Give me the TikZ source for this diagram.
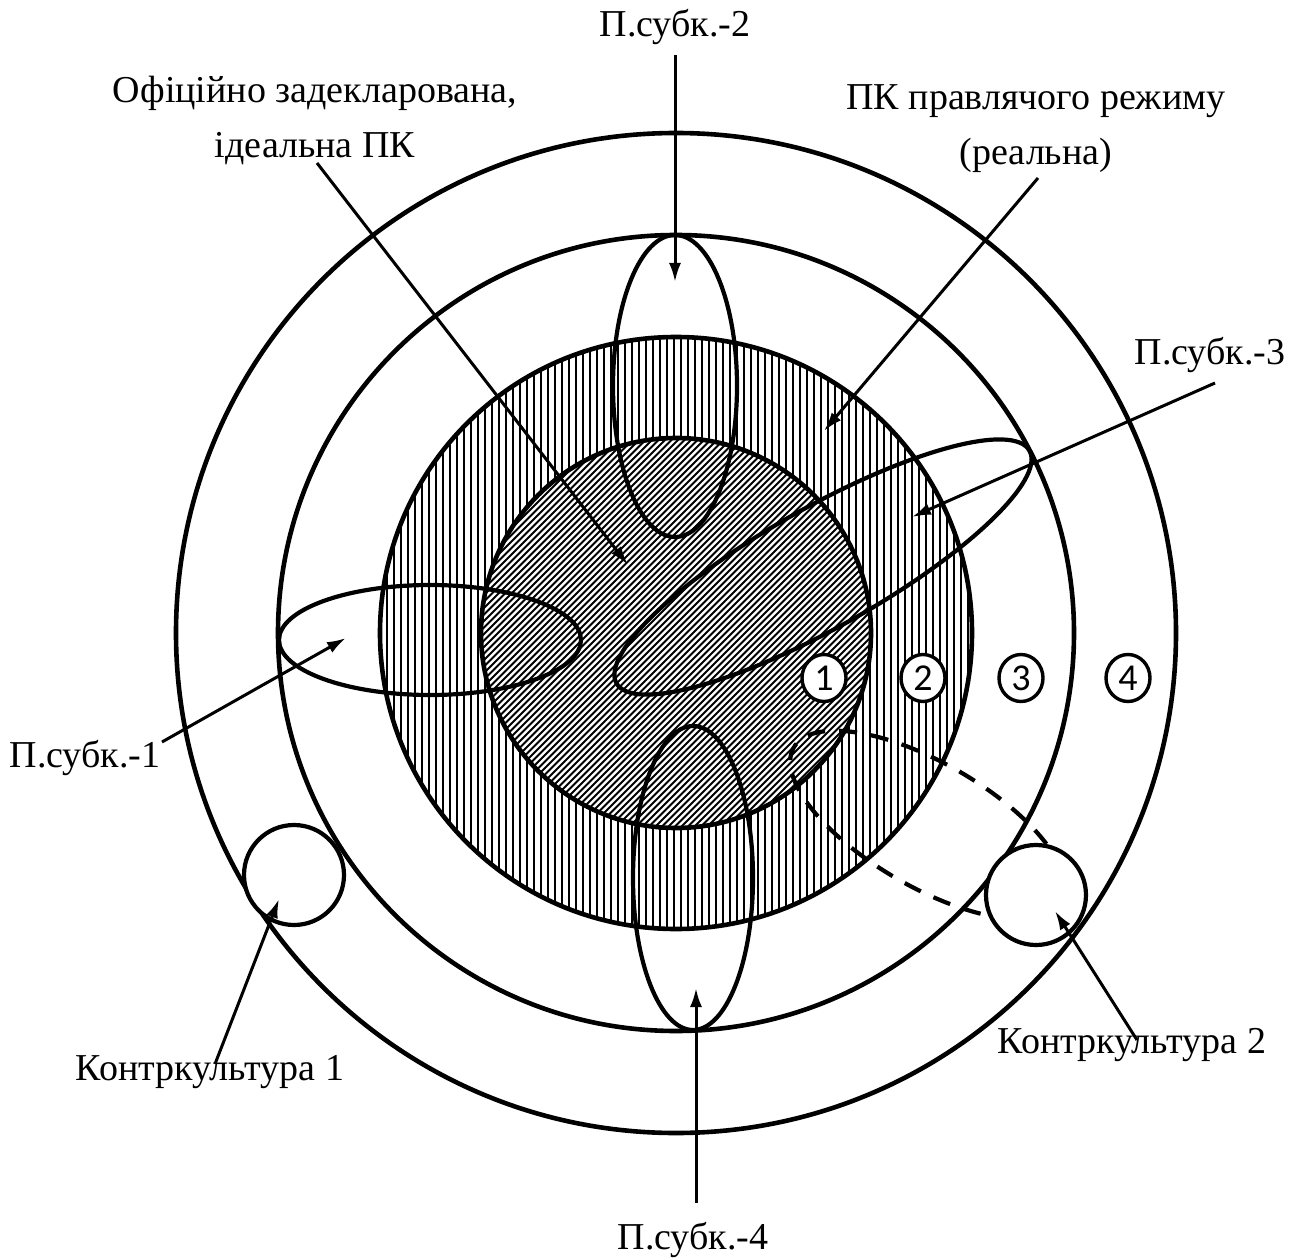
\documentclass[tikz,border=0pt]{standalone}
\usepackage{fontspec}
\setmainfont{Liberation Serif}
\newfontfamily\numfont{Carlito}
\usetikzlibrary{arrows.meta,shapes.geometric,positioning,calc}
\tikzset{ % Standard ring, hatch and arrow styles
    ring/.style={draw, line width=4.6pt},
    subc/.style={draw, line width=4.2pt},
    hatchv/.style={line width=1.5pt},
    hatchd/.style={line width=2pt},
    line/.style={draw, line width=3pt, -{Latex[length=19pt,width=12pt]}},
    lbl/.style={inner sep=0pt, align=center, font=\fontsize{38}{55}\selectfont},
    num/.style={draw, ellipse, line width=3.4pt, fill=white, minimum width=44pt, minimum height=47pt, inner sep=0pt, font=\numfont\fontsize{38}{38}\selectfont},
    cult/.style={draw, circle, line width=4.2pt, fill=white, minimum size=100pt, inner sep=0pt}
}
\begin{document}
\begin{tikzpicture}[x=1pt, y=-1pt]
	\useasboundingbox (0,0) rectangle (1302,1260);
	\coordinate (c) at (676,633);
	%Hatched zones
	\fill[white] (c) circle (296);
	\begin{scope}
		\clip (c) circle (296);
		\foreach \x in {380,387,...,975} \draw[hatchv] (\x,330) -- (\x,935);
	\end{scope}
	\fill[white] (c) circle (195);
	\begin{scope}
		\clip (c) circle (195);
		\foreach \x in {80,86.5,...,880} \draw[hatchd] (\x,830) -- (\x+400,430);
	\end{scope}
	%Rings
	\foreach \r in {195,296,398,500} \draw[ring] (c) circle (\r);
	%Subcultures
	\draw[subc] (430,640) ellipse [x radius=151pt, y radius=55pt];
	\draw[subc] (675,386) ellipse [x radius=62pt, y radius=151pt];
	\draw[subc] (693,878) ellipse [x radius=60pt, y radius=152pt];
	\draw[subc, rotate around={29.4:(823,567)}] (823,567) ellipse [x radius=237pt, y radius=60pt];
	\draw[subc, dash pattern=on 18pt off 14pt, rotate around={-30:(928,825)}] (928,825) ellipse [x radius=155pt, y radius=62pt];
	%Nodes
	\node[num] (n1) at (824,678) {1};
	\node[num] (n2) at (923,678) {2};
	\node[num] (n3) at (1021,678) {3};
	\node[num] (n4) at (1128,678) {4};
	\node[cult] (k1c) at (294,875) {};
	\node[cult] (k2c) at (1036,895) {};
	\node[lbl] (p2) at (675,27) {П.субк.-2};
	\node[lbl] (ideal) at (315,120) {Офіційно задекларована,\\ідеальна ПК};
	\node[lbl] (real) at (1036,129) {ПК правлячого режиму\\(реальна)};
	\node[lbl] (p3) at (1210,355) {П.субк.-3};
	\node[lbl] (p1) at (85,758) {П.субк.-1};
	\node[lbl] (k1) at (210,1072) {Контркультура 1};
	\node[lbl] (k2) at (1132,1045) {Контркультура 2};
	\node[lbl] (p4) at (693,1240) {П.субк.-4};
	%Arrow ends
	\coordinate (s2) at (675,55);   \coordinate (t2) at (675,282);
	\coordinate (si) at (317,163);  \coordinate (ti) at (628,565);
	\coordinate (sr) at (1038,178); \coordinate (tr) at (824,431);
	\coordinate (s3) at (1215,383); \coordinate (t3) at (912,517);
	\coordinate (s1) at (162,742);  \coordinate (t1) at (346,638);
	\coordinate (sk1) at (215,1064); \coordinate (tk1) at (279,899);
	\coordinate (sk2) at (1137,1040); \coordinate (tk2) at (1055,911);
	\coordinate (s4) at (696,1203); \coordinate (t4) at (696,988);
	%Edges
	\draw[line] (s2) -- (t2);
	\draw[line] (si) -- (ti);
	\draw[line] (sr) -- (tr);
	\draw[line] (s3) -- (t3);
	\draw[line] (s1) -- (t1);
	\draw[line] (sk1) -- (tk1);
	\draw[line] (sk2) -- (tk2);
	\draw[line] (s4) -- (t4);
\end{tikzpicture}
\end{document}
